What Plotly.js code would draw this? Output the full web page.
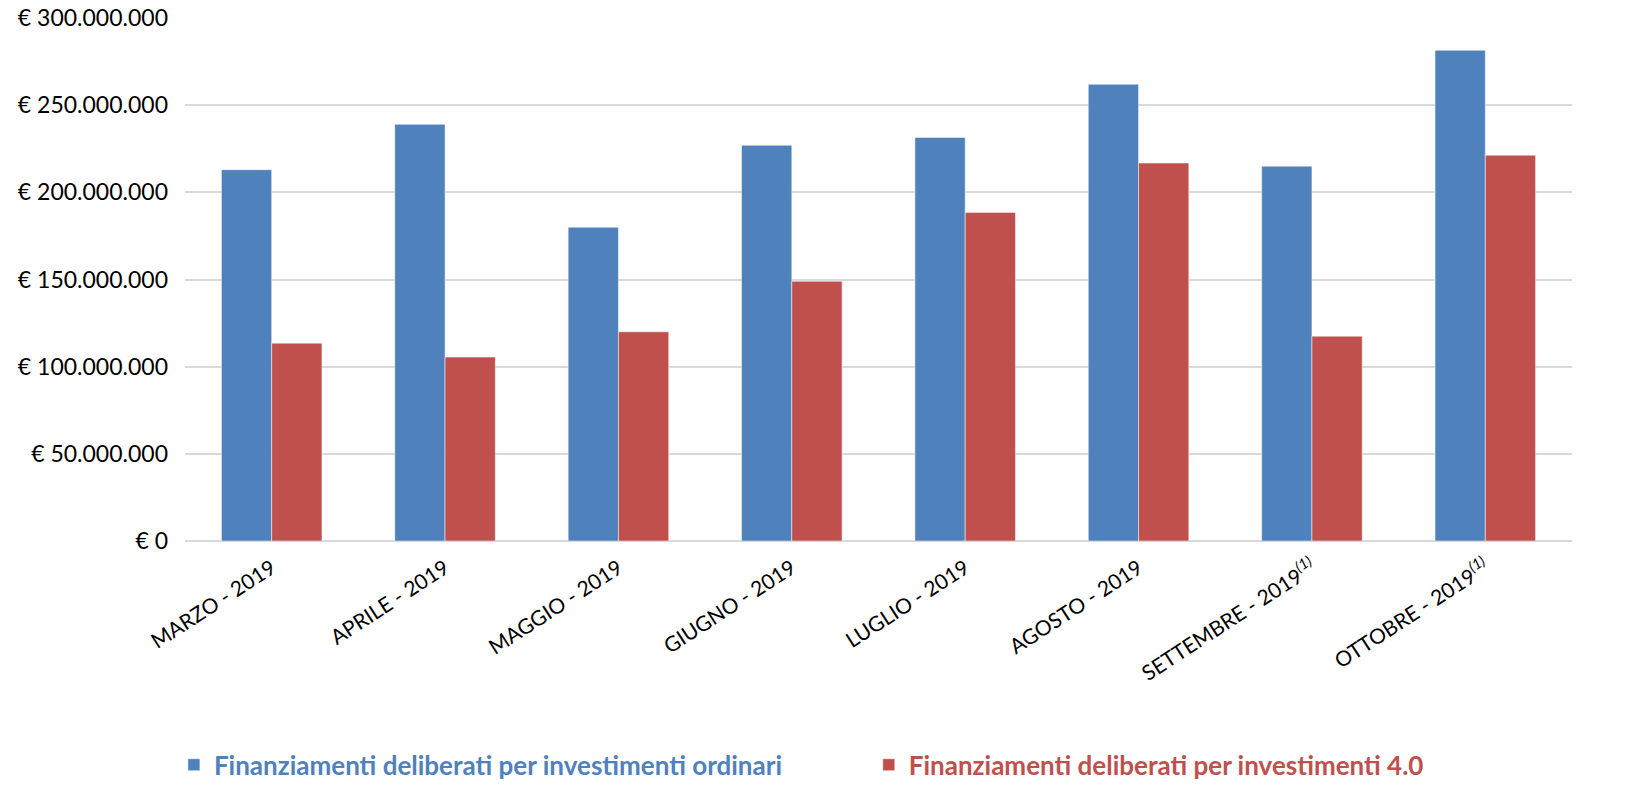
<!DOCTYPE html>
<html>
<head>
<meta charset="utf-8">
<script src="https://cdn.plot.ly/plotly-3.0.1.min.js"></script>
<style>html,body{margin:0;padding:0;background:#fff;}#chart{width:1633px;height:812px;}</style>
</head>
<body>
<div id="chart"></div>
<script>
const categories = ["MARZO - 2019","APRILE - 2019","MAGGIO - 2019","GIUGNO - 2019","LUGLIO - 2019","AGOSTO - 2019","SETTEMBRE - 2019<sup><i>(1)</i></sup>","OTTOBRE - 2019<sup><i>(1)</i></sup>"];
const ordinari = [213000000, 239000000, 180000000, 227000000, 231500000, 262000000, 215000000, 281500000];
const inv40 = [113500000, 105500000, 120000000, 149000000, 188500000, 216800000, 117500000, 221300000];
const yTickVals = [0, 50000000, 100000000, 150000000, 200000000, 250000000, 300000000];
const yTickText = ["€ 0","€ 50.000.000","€ 100.000.000","€ 150.000.000","€ 200.000.000","€ 250.000.000","€ 300.000.000"];
const seriesNames = ["Finanziamenti deliberati per investimenti ordinari","Finanziamenti deliberati per investimenti 4.0"];

const FONT = "Lato, 'Open Sans', sans-serif";
const traces = [
  {type:"bar", x:categories, y:ordinari, name:seriesNames[0], legend:"legend",
   marker:{color:"#4F81BD", line:{color:"rgba(255,255,255,0.5)", width:1}}, hoverinfo:"y"},
  {type:"bar", x:categories, y:inv40, name:seriesNames[1], legend:"legend2",
   marker:{color:"#C0504D", line:{color:"rgba(255,255,255,0.5)", width:1}}, hoverinfo:"y"}
];
const layout = {
  width:1633, height:812,
  margin:{l:185, r:61, t:18, b:271},
  paper_bgcolor:"#fff", plot_bgcolor:"#fff",
  font:{family:FONT, color:"#000"},
  barmode:"group", bargap:0.42, bargroupgap:0,
  showlegend:true,
  xaxis:{type:"category", tickangle:-33, tickfont:{size:21, family:FONT, color:"#000"},
         showgrid:false, showline:false, ticks:"", ticklabelstandoff:10, automargin:false},
  yaxis:{range:[0,300000000], tickvals:yTickVals, ticktext:yTickText,
         tickfont:{size:23, family:FONT, color:"#000"}, showgrid:true, gridcolor:"#d9d9d9", gridwidth:1.5,
         zeroline:true, zerolinecolor:"#d9d9d9", zerolinewidth:1.5, ticks:"", ticklabelstandoff:16, automargin:false},
  legend:{orientation:"h", x:-0.008, xanchor:"left", y:-0.428, yanchor:"middle",
          font:{size:26, family:FONT, color:"#4F81BD", weight:"bold"}, bgcolor:"rgba(0,0,0,0)", itemwidth:30},
  legend2:{orientation:"h", x:0.493, xanchor:"left", y:-0.428, yanchor:"middle",
          font:{size:26, family:FONT, color:"#C0504D", weight:"bold"}, bgcolor:"rgba(0,0,0,0)", itemwidth:30}
};
Plotly.newPlot("chart", traces, layout, {displayModeBar:false, responsive:false});
</script>
</body>
</html>
